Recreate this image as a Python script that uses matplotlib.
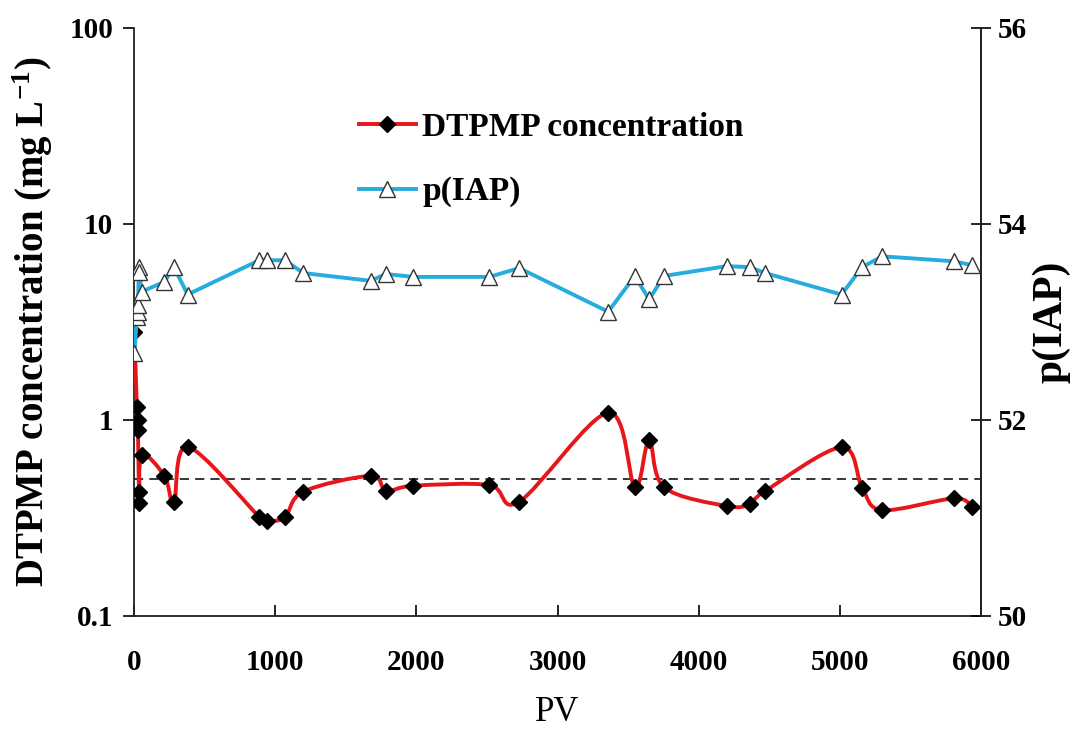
import numpy as np
import matplotlib
matplotlib.use("Agg")
import matplotlib.pyplot as plt
from matplotlib.path import Path
from matplotlib.patches import PathPatch
from matplotlib.lines import Line2D

# ---- data ----
pv = [3, 20, 25, 28, 35, 38, 55, 215, 283, 380, 887, 940, 1069, 1199, 1676, 1785,
      1978, 2516, 2729, 3359, 3548, 3649, 3754, 4198, 4363, 4469, 5012, 5158,
      5300, 5807, 5937]
dtpmp = [2.82, 1.17, 1.0, 0.89, 0.43, 0.376, 0.66, 0.52, 0.38, 0.73, 0.321, 0.306,
         0.319, 0.431, 0.518, 0.436, 0.462, 0.466, 0.383, 1.09, 0.454, 0.79, 0.454,
         0.364, 0.373, 0.433, 0.726, 0.452, 0.347, 0.398, 0.361]
iap = [52.68, 53.05, 53.105, 53.17, 53.56, 53.51, 53.31, 53.41, 53.56, 53.28, 53.63,
       53.63, 53.63, 53.50, 53.42, 53.49, 53.46, 53.46, 53.55, 53.105, 53.47, 53.23,
       53.47, 53.57, 53.56, 53.50, 53.28, 53.56, 53.67, 53.62, 53.58]
threshold = 0.5
x_ticks = [0, 1000, 2000, 3000, 4000, 5000, 6000]
y_left_ticks = [0.1, 1, 10, 100]
y_left_labels = ["0.1", "1", "10", "100"]
y_right_ticks = [50, 52, 54, 56]

RED = "#E8161B"
BLUE = "#27ACDF"
FONT = "Liberation Serif"

plt.rcParams["font.family"] = FONT
plt.rcParams["mathtext.fontset"] = "custom"
plt.rcParams["mathtext.rm"] = "Liberation Serif:bold"
plt.rcParams["mathtext.bf"] = "Liberation Serif:bold"

fig = plt.figure(figsize=(10.8, 7.34), dpi=100)
ax = fig.add_axes([134 / 1080, 1 - 616 / 734, (981 - 134) / 1080, (616 - 28) / 734])
ax.set_yscale("log")
ax.set_xlim(0, 6000)
ax.set_ylim(0.1, 100)


def smooth_path(xs, ys):
    """Catmull-Rom style Bezier through the points, built in (x, log10 y) space."""
    X = np.asarray(xs, float)
    L = np.log10(np.asarray(ys, float))
    n = len(X)
    verts = [(X[0], 10 ** L[0])]
    codes = [Path.MOVETO]
    for i in range(n - 1):
        i0 = max(i - 1, 0)
        i3 = min(i + 2, n - 1)
        c1x = X[i] + (X[i + 1] - X[i0]) / 6.0
        c1y = L[i] + (L[i + 1] - L[i0]) / 6.0
        c2x = X[i + 1] - (X[i3] - X[i]) / 6.0
        c2y = L[i + 1] - (L[i3] - L[i]) / 6.0
        verts += [(c1x, 10 ** c1y), (c2x, 10 ** c2y), (X[i + 1], 10 ** L[i + 1])]
        codes += [Path.CURVE4, Path.CURVE4, Path.CURVE4]
    return Path(verts, codes)


ax.add_patch(PathPatch(smooth_path(pv, dtpmp), facecolor="none", edgecolor=RED,
                       lw=2.8, zorder=3, capstyle="round", joinstyle="round"))
ax.plot(pv, dtpmp, linestyle="none", marker="D", markersize=8.5,
        color="black", zorder=4)
ax.axhline(threshold, color="black", lw=1.1, ls=(0, (6, 4)), zorder=2)

ax2 = ax.twinx()
ax2.set_ylim(50, 56)
ax2.plot(pv, iap, color=BLUE, lw=2.8, marker="^", markersize=11,
         markerfacecolor="white", markeredgecolor="#333333", markeredgewidth=1.0,
         zorder=5)

# axes styling
ax.set_xticks(x_ticks)
ax.set_xticklabels([str(t) for t in x_ticks])
ax.set_yticks(y_left_ticks)
ax.set_yticklabels(y_left_labels)
ax.yaxis.set_minor_locator(matplotlib.ticker.NullLocator())
ax2.set_yticks(y_right_ticks)
ax2.set_yticklabels([str(t) for t in y_right_ticks])

for a in (ax, ax2):
    a.spines["top"].set_visible(False)
    for s in a.spines.values():
        s.set_linewidth(1.3)
        s.set_color("#222222")
ax2.spines["left"].set_visible(False)
ax2.spines["bottom"].set_visible(False)

ax.tick_params(axis="x", direction="in", length=8, width=1.2, pad=24,
               labelsize=21)
ax.tick_params(axis="y", direction="out", length=8, width=1.2, pad=7,
               labelsize=21)
ax2.tick_params(axis="y", direction="inout", length=14, width=1.2, pad=5,
                labelsize=21)
for lab in ax.get_xticklabels() + ax.get_yticklabels() + ax2.get_yticklabels():
    lab.set_fontweight("bold")

ax.set_xlabel("PV", fontsize=25, labelpad=14)
ax.set_ylabel("DTPMP concentration (mg L$\\mathregular{^{-1}}$)", fontsize=28,
              fontweight="bold", labelpad=10)
ax2.set_ylabel("p(IAP)", fontsize=30, fontweight="bold", labelpad=4)

handles = [
    Line2D([], [], color=RED, lw=2.8, marker="D", markersize=8.5,
           markerfacecolor="black", markeredgecolor="black"),
    Line2D([], [], color=BLUE, lw=2.8, marker="^", markersize=11,
           markerfacecolor="white", markeredgecolor="#333333", markeredgewidth=1.0),
]
leg = ax2.legend(handles, ["DTPMP concentration", "p(IAP)"], loc="upper left",
                 bbox_to_anchor=(0.238, 0.897), frameon=False,
                 prop={"family": FONT, "weight": "bold", "size": 24},
                 handlelength=1.7, handletextpad=0.2, labelspacing=1.0,
                 borderpad=0.2)

fig.savefig("out.png", dpi=100)
